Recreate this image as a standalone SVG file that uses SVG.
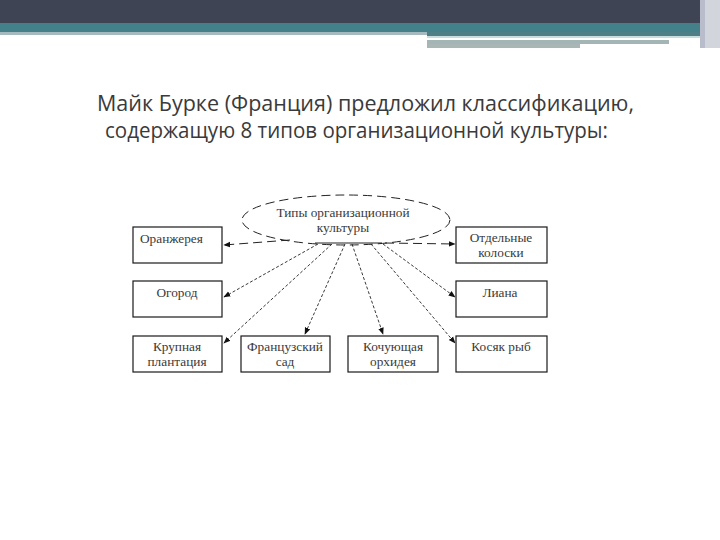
<svg xmlns="http://www.w3.org/2000/svg" width="720" height="540" viewBox="0 0 720 540">
<style>
.box{fill:#fff;stroke:#1a1a1a;stroke-width:1.2}
.lbl{font-family:"Liberation Serif",serif;font-size:13.3px;fill:#3a3a3a;text-anchor:middle}
.title{font-family:"Open Sans","DejaVu Sans",sans-serif;font-size:21.5px;fill:#3a3a3a}
.con{stroke:#222;stroke-width:0.9;fill:none;stroke-dasharray:3 2}
.dash{stroke:#222;stroke-width:1;fill:none;stroke-dasharray:9 5}
</style>
<defs>
<marker id="ah" viewBox="0 0 10 10" refX="9" refY="5" markerWidth="7" markerHeight="7" orient="auto" markerUnits="userSpaceOnUse">
<path d="M0,1 L10,5 L0,9 Z" fill="#111"/>
</marker>
</defs>
<rect width="720" height="540" fill="#fff"/>
<g id="header">
<rect x="0" y="0" width="720" height="23" fill="#3f4454"/>
<rect x="0" y="23" width="705" height="9" fill="#43808a"/>
<rect x="0" y="32" width="427" height="3" fill="#a6b9bf"/>
<rect x="427" y="32" width="276" height="4" fill="#4e7f86"/>
<rect x="427" y="36" width="276" height="2" fill="#c8dede"/>
<rect x="427" y="40" width="242" height="4" fill="#a3b5b5"/>
<rect x="427" y="44" width="153" height="4" fill="#a9b6b6"/>
<rect x="700" y="0" width="5" height="48" fill="#b9bccb"/>
<rect x="705" y="0" width="15" height="48" fill="#d3d5dd"/>
</g>
<g id="title">
<text class="title" x="97" y="111" textLength="537" lengthAdjust="spacingAndGlyphs">Майк Бурке (Франция) предложил классификацию,</text>
<text class="title" x="105" y="138" textLength="503" lengthAdjust="spacingAndGlyphs">содержащую 8 типов организационной культуры:</text>
</g>
<g id="connectors">
<line class="dash" x1="290" y1="240" x2="224" y2="245" marker-end="url(#ah)"/>
<line class="dash" x1="385" y1="243" x2="455" y2="244" marker-end="url(#ah)"/>
<line class="con" x1="318" y1="244" x2="224" y2="297" marker-end="url(#ah)"/>
<line class="con" x1="332" y1="244" x2="224" y2="343" marker-end="url(#ah)"/>
<line class="con" x1="345" y1="244" x2="305" y2="334" marker-end="url(#ah)"/>
<line class="con" x1="352" y1="244" x2="383" y2="334" marker-end="url(#ah)"/>
<line class="con" x1="383" y1="244" x2="455" y2="297" marker-end="url(#ah)"/>
<line class="con" x1="371" y1="244" x2="455" y2="343" marker-end="url(#ah)"/>
</g>
<g id="root">
<ellipse class="dash" cx="346" cy="220" rx="104" ry="25" fill="#fff"/>
<line x1="315" y1="243" x2="382" y2="243" stroke="#222" stroke-width="1"/>
<text class="lbl" x="343" y="217">Типы организационной</text>
<text class="lbl" x="343" y="232">культуры</text>
</g>
<g id="n1"><rect class="box" x="133" y="227" width="89" height="36"/><text class="lbl" x="140" y="243" style="text-anchor:start">Оранжерея</text></g>
<g id="n2"><rect class="box" x="456" y="227" width="91" height="36"/><text class="lbl" x="501" y="242">Отдельные</text><text class="lbl" x="501" y="257">колоски</text></g>
<g id="n3"><rect class="box" x="133" y="281" width="89" height="36"/><text class="lbl" x="177" y="297">Огород</text></g>
<g id="n4"><rect class="box" x="456" y="281" width="91" height="36"/><text class="lbl" x="500" y="297">Лиана</text></g>
<g id="n5"><rect class="box" x="133" y="336" width="89" height="36"/><text class="lbl" x="177" y="351">Крупная</text><text class="lbl" x="177" y="366">плантация</text></g>
<g id="n6"><rect class="box" x="241" y="336" width="89" height="36"/><text class="lbl" x="285" y="351">Французский</text><text class="lbl" x="285" y="366">сад</text></g>
<g id="n7"><rect class="box" x="348" y="336" width="90" height="36"/><text class="lbl" x="393" y="351">Кочующая</text><text class="lbl" x="393" y="366">орхидея</text></g>
<g id="n8"><rect class="box" x="456" y="336" width="91" height="36"/><text class="lbl" x="501" y="351">Косяк рыб</text></g>
</svg>
